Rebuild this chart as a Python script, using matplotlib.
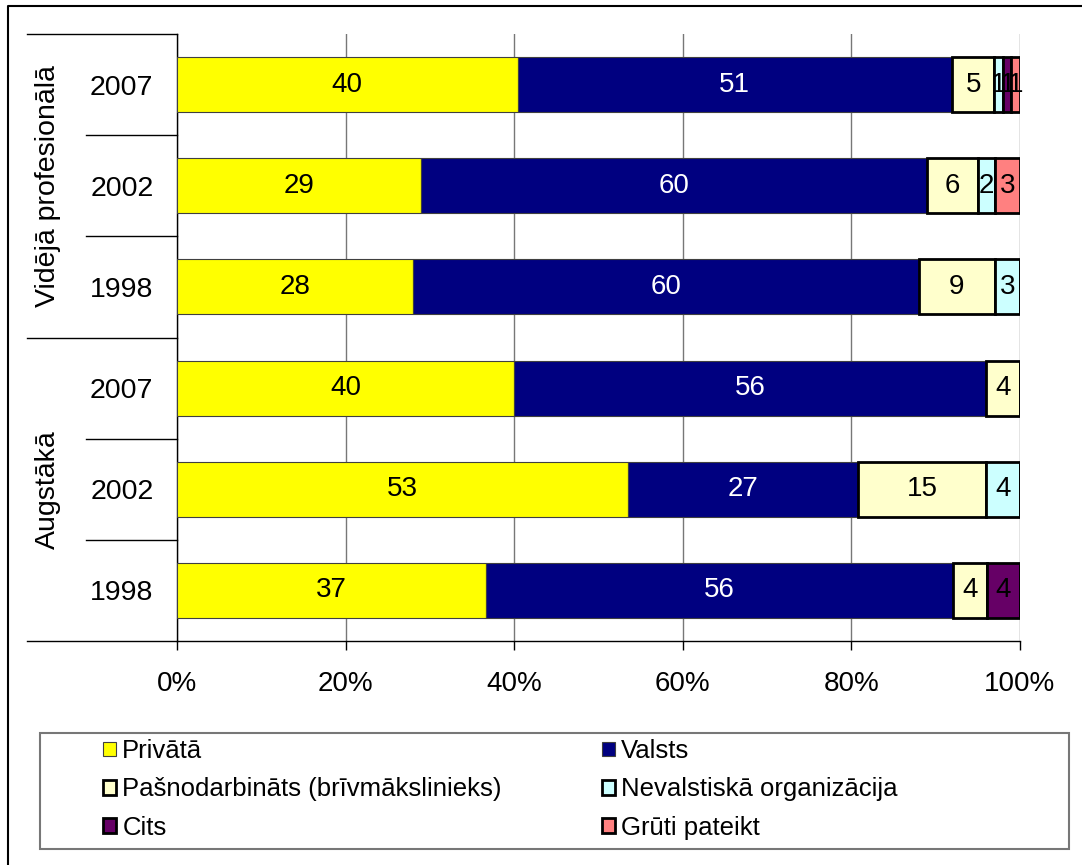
import numpy as np
import matplotlib
matplotlib.use('Agg')
import matplotlib.pyplot as plt
from matplotlib import transforms
from matplotlib.lines import Line2D
from matplotlib.patches import Rectangle

plt.rcParams['font.family'] = ['Liberation Sans', 'DejaVu Sans']

### DATI

grupas = ['Vidējā profesionālā', 'Augstākā']
gadi = ['2007', '2002', '1998', '2007', '2002', '1998']

serijas = ['Privātā', 'Valsts', 'Pašnodarbināts (brīvmākslinieks)',
           'Nevalstiskā organizācija', 'Cits', 'Grūti pateikt']
privata = [40, 29, 28, 40, 53, 37]
valsts = [51, 60, 60, 56, 27, 56]
pasnodarbinats = [5, 6, 9, 4, 15, 4]
nevalstiska = [1, 2, 3, 0, 4, 0]
cits = [1, 0, 0, 0, 0, 4]
gruti = [1, 3, 0, 0, 0, 0]
krasas = ['#FFFF00', '#000080', '#FFFFCC', '#CCFFFF', '#660066', '#FF8080']

### ZIMEJUMS

W, H = 1082, 865
fig = plt.figure(figsize=(W / 100, H / 100), dpi=100)
ax = fig.add_axes([177 / W, 1 - 641 / H, (1020 - 177) / W, (641 - 34) / H])

dati = np.array([privata, valsts, pasnodarbinats, nevalstiska, cits, gruti], float)
proc = dati / dati.sum(axis=0) * 100
y = np.arange(len(gadi))
left = np.zeros(len(gadi))

for i in range(len(serijas)):
    plain = i < 2
    ax.barh(y, proc[i], left=left, height=0.545, color=krasas[i],
            edgecolor='#404040' if plain else 'black',
            linewidth=0.8 if plain else 2.0, label=serijas[i], zorder=3)
    for yy, v, p, l in zip(y, dati[i], proc[i], left):
        if v > 0:
            ax.text(l + p / 2, yy, f'{v:g}', ha='center', va='center',
                    color='white' if i == 1 else 'black', fontsize=20, zorder=4)
    left += proc[i]

ax.set_ylim(len(gadi) - 0.5, -0.5)
ax.set_xlim(0, 100)
ax.set_xticks(np.arange(0, 101, 20))
ax.set_xticklabels([f'{t}%' for t in range(0, 101, 20)])
ax.xaxis.grid(True, color='#777777', linewidth=1)
ax.set_axisbelow(True)
ax.tick_params(axis='x', length=6.5, width=1, direction='out', pad=15, labelsize=20)
ax.set_yticks(y)
ax.set_yticklabels(gadi)
ax.tick_params(axis='y', length=0, pad=17, labelsize=20.5)
for s in ['top', 'right']:
    ax.spines[s].set_visible(False)
for s in ['left', 'bottom']:
    ax.spines[s].set_color('black')
    ax.spines[s].set_linewidth(1)

# kategoriju atdalitaji
trans = transforms.blended_transform_factory(fig.transFigure, ax.transData)
for b in np.arange(-0.5, len(gadi), 1.0):
    x0 = 27 / W if b in (-0.5, 2.5, 5.5) else 86 / W
    fig.add_artist(Line2D([x0, 177 / W], [b, b], transform=trans,
                          color='black', lw=1, clip_on=False))

for k, g in enumerate(grupas):
    fig.text(48 / W, 3 * k + 1, g, transform=trans, rotation=90,
             ha='center', va='center', fontsize=20.5)

# legenda
handles, labels = ax.get_legend_handles_labels()
order = [0, 2, 4, 1, 3, 5]
fig.legend([handles[k] for k in order], [labels[k] for k in order], ncol=2,
           loc='upper left', bbox_to_anchor=(103 / W, 1 - 739 / H),
           frameon=False, fontsize=18.5, handlelength=0.5, handleheight=0.5,
           handletextpad=0.25, columnspacing=3.9, labelspacing=0.56,
           borderpad=0, borderaxespad=0)
fig.add_artist(Rectangle((40 / W, 1 - 849 / H), 1029 / W, 116 / H,
                         transform=fig.transFigure, fill=False,
                         edgecolor='#777777', lw=1.5))

fig.add_artist(Line2D([8 / W, 8 / W, 1], [0, 1 - 6 / H, 1 - 6 / H],
                      transform=fig.transFigure, color='black', lw=1.5))

fig.savefig('out.png', dpi=100)
